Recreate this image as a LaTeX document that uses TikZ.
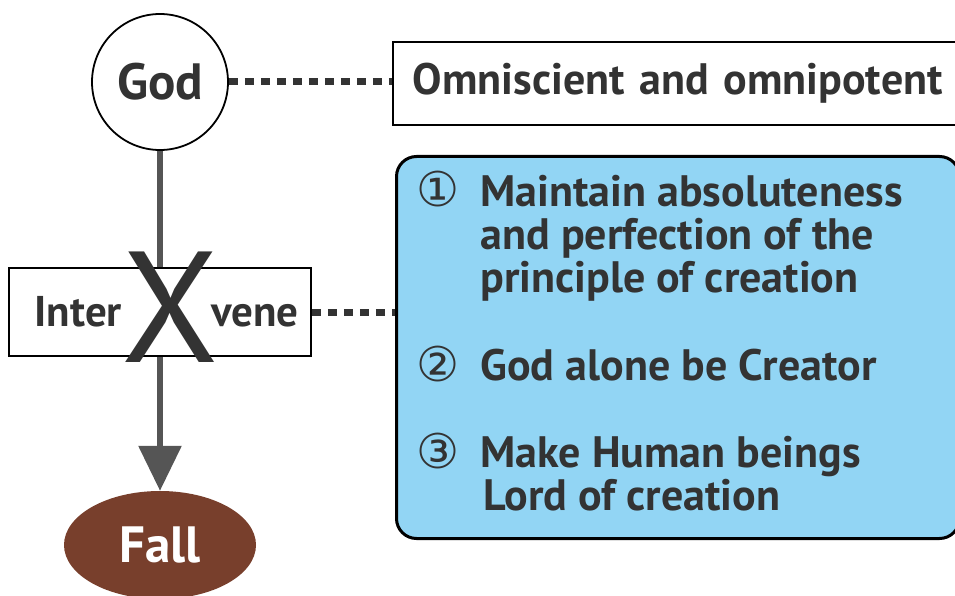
\documentclass[tikz,border=0pt]{standalone}
\usepackage{fontspec}
\setmainfont{PT Sans}
\newfontfamily\circfont{DejaVu Sans}
\usetikzlibrary{arrows.meta,positioning,calc,shapes.geometric}
\definecolor{inkgray}{HTML}{333333}
\definecolor{linegray}{HTML}{555555}
\definecolor{skyfill}{HTML}{92D5F4}
\definecolor{fallbrown}{HTML}{783F2C}

\tikzset{
  dotlink/.style={inkgray, line width=7pt, dash pattern=on 9pt off 7pt},
  plainbox/.style={draw=black, line width=1.8pt, fill=white, text=inkgray},
  itemtext/.style={anchor=base west, align=left, text=inkgray,
    font=\fontsize{44}{43}\selectfont\bfseries},
  itemnum/.style={anchor=base, text=inkgray, font=\circfont\fontsize{48}{48}\selectfont},
}

\begin{document}
\begin{tikzpicture}[x=1pt,y=-1pt]
    \useasboundingbox (0,0) rectangle (955,596);

    % God on top, Fall at the bottom
    \node[draw, circle, line width=1.8pt, minimum size=136pt, fill=white, text=inkgray,
      font=\fontsize{51}{51}\selectfont\bfseries] (god) at (160,82) {God};
    \node[ellipse, fill=fallbrown, minimum width=192pt, minimum height=108pt, text=white,
      font=\fontsize{51}{51}\selectfont\bfseries] (fall) at (160,545) {Fall};
    \draw[linegray, line width=6pt, -{Triangle[width=42pt,length=45pt]}] (god) -- (fall);

    % Intervene, crossed out
    \node[plainbox, minimum width=302pt, minimum height=88pt,
      font=\fontsize{43}{43}\selectfont\bfseries] (intervene) at (160,312)
      {\hspace*{13pt}Inter\hspace{89pt}vene};
    \node[text=inkgray, inner sep=0pt, font=\fontsize{158}{158}\selectfont] (cross) at (170.5,307.5) {X};

    % Attributes of God
    \node[plainbox, anchor=west, minimum height=83pt, text width=540pt, align=left,
      inner xsep=20pt, font=\fontsize{44}{44}\selectfont\bfseries] (omni) at (392,83.5)
      {Omniscient and omnipotent};
    \draw[dotlink] (god.east) -- (god.east -| omni.west);

    % Reasons box
    \node[draw, line width=3pt, rounded corners=20pt, fill=skyfill, minimum width=563pt,
      minimum height=382pt, anchor=north west] (props) at (395,155) {};
    \draw[dotlink] (intervene.east) -- (intervene.east -| props.west);

    % base of a multi-line node is its last line
    \node[itemnum] (n1) at (438,207) {①};
    \node[itemtext] (t1) at (477,292) {Maintain absoluteness\\and perfection of the\\principle of creation};
    \node[itemnum] (n2) at (438,381) {②};
    \node[itemtext] (t2) at (477,380) {God alone be Creator};
    \node[itemnum] (n3) at (438,468) {③};
    \node[itemtext] (t3) at (477,510) {Make Human beings\\\hspace*{3pt}Lord of creation};

\end{tikzpicture}
\end{document}
